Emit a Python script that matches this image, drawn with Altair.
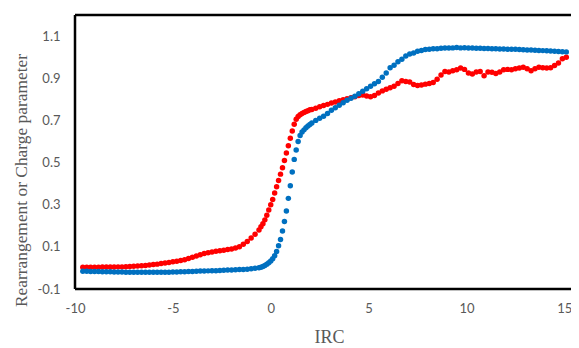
import altair as alt
import pandas as pd

irc = [
    -9.6, -9.4, -9.2, -9.0, -8.8, -8.6, -8.4, -8.2, -8.0, -7.8, -7.6, -7.4, -7.2, -7.0,
    -6.8, -6.6, -6.4, -6.2, -6.0, -5.8, -5.6, -5.4, -5.2, -5.0, -4.8, -4.6, -4.4, -4.2,
    -4.0, -3.8, -3.6, -3.4, -3.2, -3.0, -2.8, -2.6, -2.4, -2.2, -2.0, -1.8, -1.6, -1.4,
    -1.2, -1.0, -0.8, -0.6,
    -0.5, -0.4, -0.3, -0.2, -0.1, 0.0, 0.1, 0.2, 0.3, 0.4, 0.5, 0.6, 0.7, 0.8, 0.9, 1.0,
    1.1, 1.2, 1.3, 1.4, 1.5, 1.6, 1.7, 1.8, 1.9, 2.0,
    2.1, 2.3, 2.5, 2.7, 2.9, 3.1, 3.3, 3.5, 3.7, 3.9, 4.1, 4.3, 4.5, 4.7, 4.9, 5.1, 5.3,
    5.5, 5.7, 5.9, 6.1, 6.3, 6.5, 6.7, 6.9, 7.1, 7.3, 7.5, 7.7, 7.9, 8.1, 8.3, 8.5, 8.7,
    8.9, 9.1, 9.3, 9.5, 9.7, 9.9, 10.1, 10.3, 10.5, 10.7, 10.9, 11.1, 11.3, 11.5, 11.7,
    11.9, 12.1, 12.3, 12.5, 12.7, 12.9, 13.1, 13.3, 13.5, 13.7, 13.9, 14.1, 14.3, 14.5,
    14.7, 14.9, 15.1,
]

red_values = [
    0.003, 0.003, 0.003, 0.003, 0.003, 0.004, 0.004, 0.004, 0.004, 0.005, 0.005, 0.006,
    0.007, 0.008, 0.009, 0.010, 0.012, 0.014, 0.016, 0.018, 0.021, 0.023, 0.026, 0.029,
    0.032, 0.035, 0.039, 0.045, 0.051, 0.057, 0.063, 0.068, 0.072, 0.076, 0.079, 0.081,
    0.084, 0.087, 0.090, 0.094, 0.100, 0.112, 0.125, 0.142, 0.160, 0.180,
    0.195, 0.210, 0.228, 0.250, 0.275, 0.300, 0.325, 0.355, 0.385, 0.415, 0.445, 0.475,
    0.510, 0.545, 0.580, 0.615, 0.650, 0.682, 0.705, 0.718, 0.727, 0.733, 0.738, 0.742,
    0.746, 0.750,
    0.752, 0.758, 0.765, 0.771, 0.776, 0.782, 0.787, 0.793, 0.798, 0.803, 0.808, 0.812,
    0.818, 0.820, 0.816, 0.812, 0.818, 0.830, 0.840, 0.848, 0.855, 0.862, 0.875, 0.888,
    0.885, 0.882, 0.870, 0.866, 0.868, 0.872, 0.875, 0.880, 0.895, 0.915, 0.932, 0.930,
    0.935, 0.940, 0.948, 0.942, 0.925, 0.920, 0.930, 0.932, 0.912, 0.930, 0.928, 0.922,
    0.930, 0.940, 0.942, 0.940, 0.945, 0.948, 0.952, 0.945, 0.935, 0.945, 0.952, 0.950,
    0.948, 0.950, 0.960, 0.972, 0.992, 1.000,
]

blue_values = [
    -0.016, -0.016, -0.017, -0.017, -0.017, -0.018, -0.018, -0.018, -0.019, -0.019,
    -0.019, -0.020, -0.020, -0.020, -0.020, -0.021, -0.021, -0.021, -0.021, -0.021,
    -0.020, -0.020, -0.020, -0.019, -0.019, -0.018, -0.018, -0.017, -0.017, -0.016,
    -0.015, -0.015, -0.014, -0.013, -0.013, -0.012, -0.011, -0.010, -0.010, -0.009,
    -0.008, -0.007, -0.006, -0.004, -0.002, 0.001,
    0.003, 0.007, 0.012, 0.018, 0.025, 0.033, 0.043, 0.058, 0.078, 0.105, 0.135, 0.175,
    0.220, 0.270, 0.330, 0.390, 0.455, 0.515, 0.560, 0.600, 0.628, 0.645, 0.655, 0.665,
    0.673, 0.680,
    0.688, 0.700, 0.710, 0.720, 0.733, 0.748, 0.760, 0.772, 0.784, 0.795, 0.805, 0.815,
    0.826, 0.838, 0.850, 0.862, 0.874, 0.885, 0.905, 0.925, 0.950, 0.962, 0.978, 0.990,
    1.005, 1.015, 1.020, 1.028, 1.032, 1.036, 1.038, 1.040, 1.040, 1.042, 1.043, 1.043,
    1.044, 1.046, 1.044, 1.045, 1.043, 1.043, 1.042, 1.042, 1.041, 1.041, 1.040, 1.040,
    1.039, 1.039, 1.038, 1.038, 1.037, 1.036, 1.035, 1.034, 1.034, 1.033, 1.032, 1.031,
    1.030, 1.029, 1.028, 1.027, 1.026, 1.025,
]

x_ticks = [-10, -5, 0, 5, 10, 15]
y_ticks = [-0.1, 0.1, 0.3, 0.5, 0.7, 0.9, 1.1]

df_red = pd.DataFrame({"irc": irc, "value": red_values})
df_blue = pd.DataFrame({"irc": irc, "value": blue_values})

GRAY = "#595959"
W, H = 496, 274

x_scale = alt.Scale(domain=[-10, 15.34], nice=False, zero=False)
y_scale = alt.Scale(domain=[-0.1, 1.2], nice=False, zero=False)

x_axis = alt.Axis(
    values=x_ticks,
    labelExpr="replace(format(datum.value, 'd'), '\u2212', '-')",
    grid=False, ticks=False, labelFlush=False, domain=False,
    labelColor=GRAY, labelFont="Lato", labelFontSize=13, labelPadding=13,
    title="IRC", titleFont="Liberation Serif", titleFontSize=18,
    titleFontWeight="normal", titleColor=GRAY,
    titleX=254, titleAlign="center", titleY=48, titleBaseline="middle",
)
y_axis = alt.Axis(
    values=y_ticks,
    labelExpr="replace(format(datum.value, '.1f'), '\u2212', '-')",
    grid=False, ticks=False, labelFlush=False, domain=False,
    labelColor=GRAY, labelFont="Lato", labelFontSize=13, labelPadding=15,
    title="Rearrangement or Charge parameter", titleFont="Liberation Serif",
    titleFontSize=17.4, titleFontWeight="normal", titleColor=GRAY,
    titleX=-54, titleY=165, titleBaseline="middle", titleAlign="center", titleAngle=270,
)

red = alt.Chart(df_red).mark_circle(size=30, opacity=1, color="#FF0000").encode(
    x=alt.X("irc:Q", scale=x_scale, axis=x_axis),
    y=alt.Y("value:Q", scale=y_scale, axis=y_axis),
)
blue = alt.Chart(df_blue).mark_circle(size=30, opacity=1, color="#0070C0").encode(
    x=alt.X("irc:Q", scale=x_scale),
    y=alt.Y("value:Q", scale=y_scale),
)

frame_src = pd.DataFrame({"k": [0]})
top_line = alt.Chart(frame_src).mark_rule(color="black", strokeWidth=2.5).encode(
    x=alt.value(0), x2=alt.value(W), y=alt.value(0)
)
left_line = alt.Chart(frame_src).mark_rule(color="black", strokeWidth=2.5).encode(
    x=alt.value(0), y=alt.value(0), y2=alt.value(H)
)
bottom_line = alt.Chart(frame_src).mark_rule(color="black", strokeWidth=2.5).encode(
    x=alt.value(0), x2=alt.value(W), y=alt.value(H)
)

chart = alt.layer(red, blue, top_line, left_line, bottom_line).properties(
    width=W, height=H,
    background="white",
    autosize=alt.AutoSizeParams(type="none"),
    padding={"left": 67, "top": 7, "right": 0, "bottom": 56},
).configure_view(stroke=None)

chart.save("out.html", embed_options={"renderer": "svg", "actions": False})
